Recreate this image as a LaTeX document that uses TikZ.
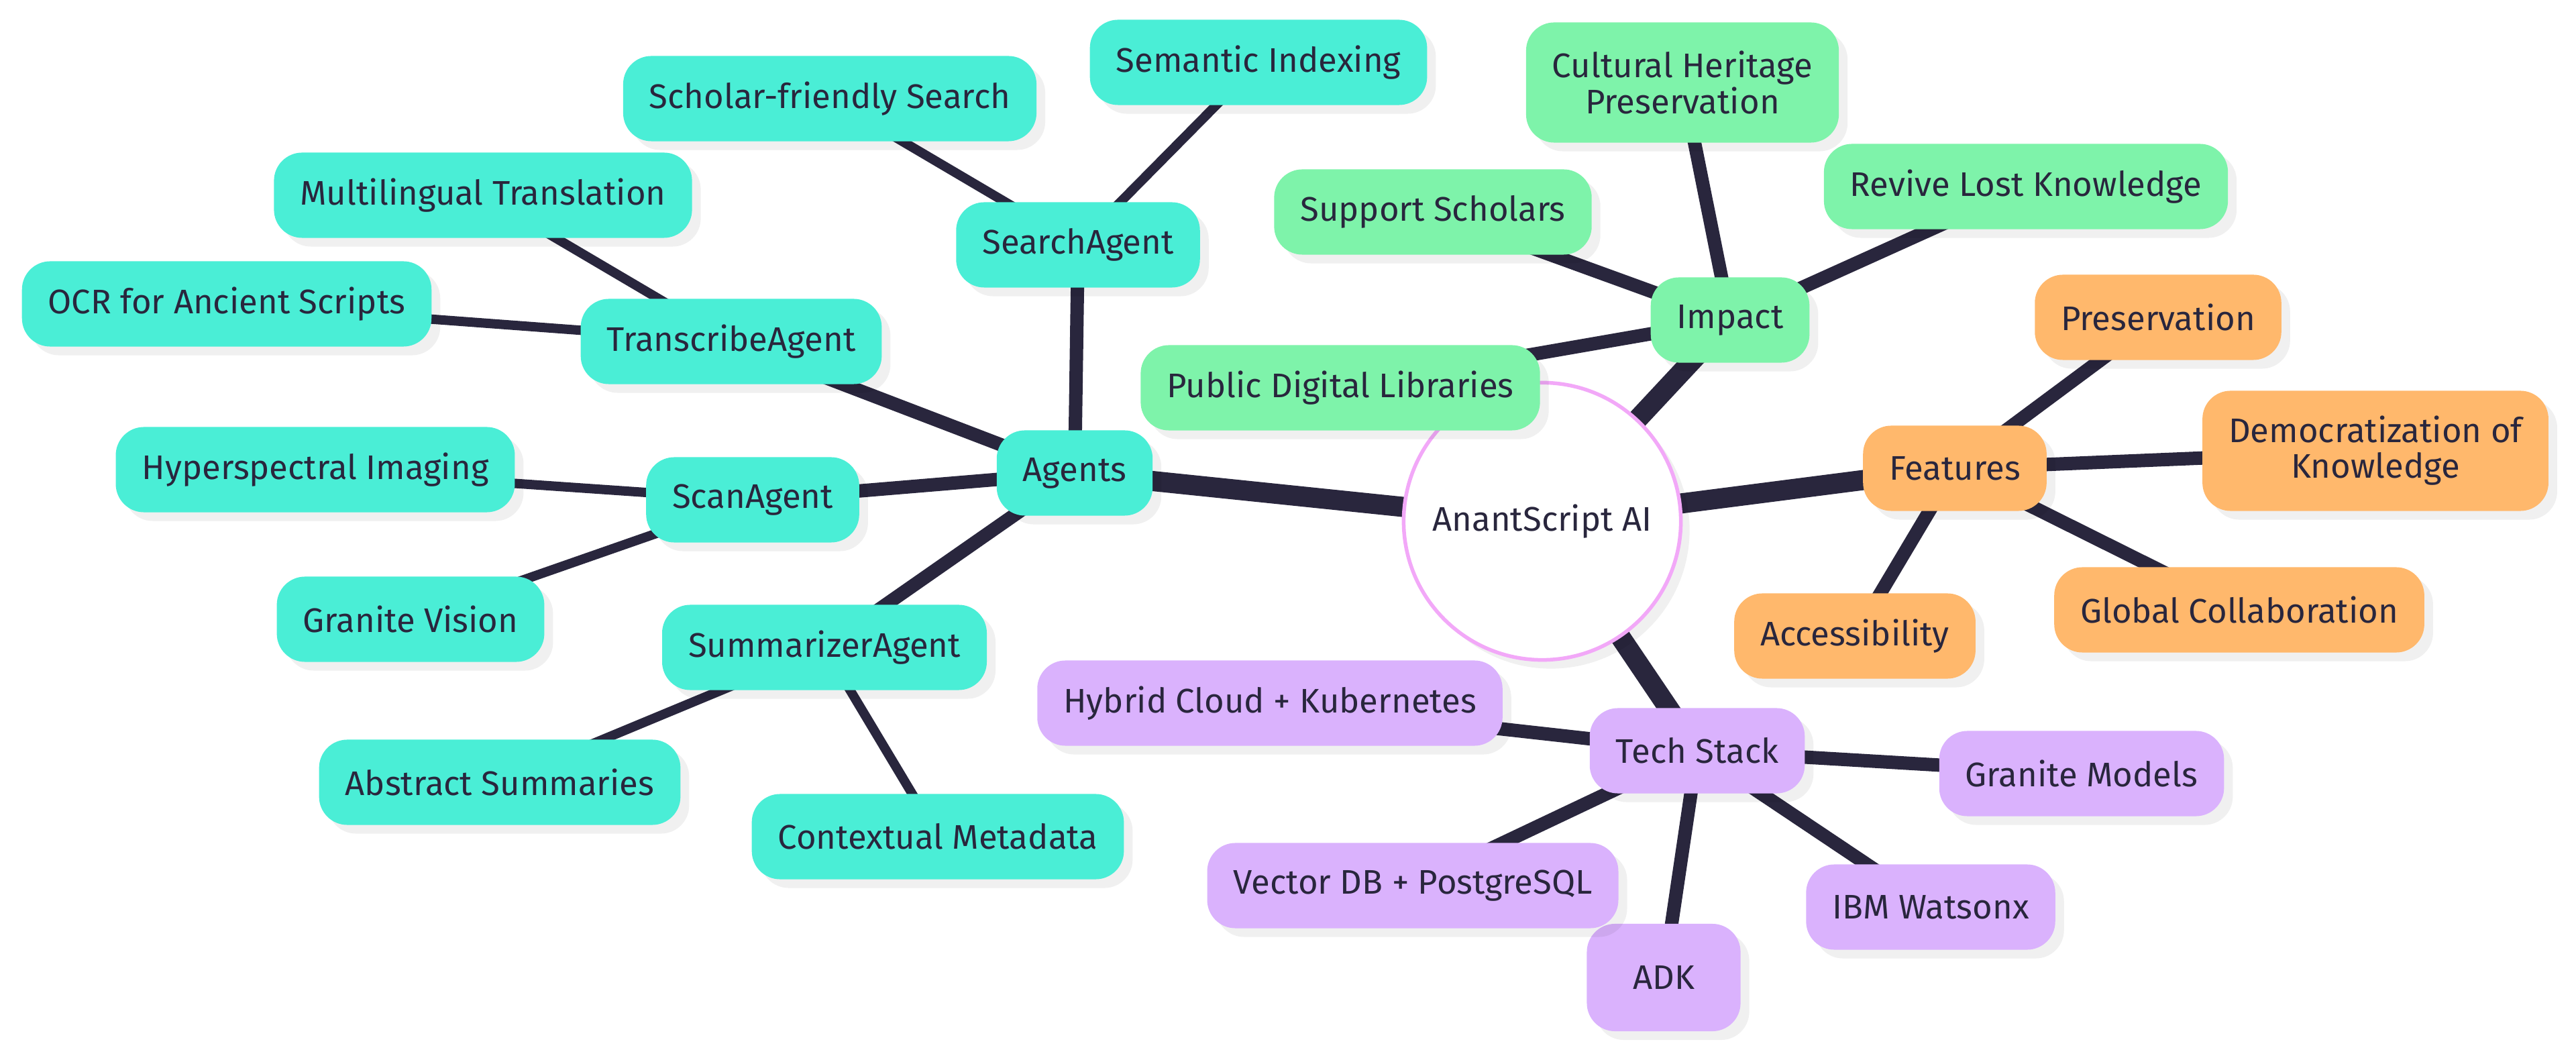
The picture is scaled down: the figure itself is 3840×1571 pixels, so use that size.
\documentclass[tikz,border=0pt]{standalone}
\usepackage{fontspec}
\setmainfont{Fira Sans}
\usetikzlibrary{shadows}
\definecolor{ink}{HTML}{29263D}
\definecolor{cTeal}{HTML}{4AEED6}
\definecolor{cGreen}{HTML}{7EF3AA}
\definecolor{cOrange}{HTML}{FFB86C}
\definecolor{cPurple}{HTML}{DAB2FD}
\definecolor{cPink}{HTML}{F2A8F8}
\pgfdeclarelayer{edges}
\pgfsetlayers{edges,main}
\tikzset{
  mmshadow/.style={drop shadow={shadow xshift=0.13cm, shadow yshift=-0.13cm, fill=black, opacity=0.06}},
  mm/.style={rounded corners=0.42cm, inner xsep=0.39cm, inner ysep=0pt,
    minimum height=1.27cm, text=ink, align=center,
    font=\fontsize{14.46pt}{15.1pt}\selectfont, mmshadow},
  twoline/.style={minimum height=1.79cm},
  nTeal/.style={mm, fill=cTeal},
  nGreen/.style={mm, fill=cGreen},
  nOrange/.style={mm, fill=cOrange},
  nPurple/.style={mm, fill=cPurple},
  eA/.style={draw=ink, line width=0.30cm},
  eB/.style={draw=ink, line width=0.20cm},
  eC/.style={draw=ink, line width=0.14cm},
}
\begin{document}
\begin{tikzpicture}[x=0.01cm, y=-0.01cm]
\useasboundingbox (0,0) rectangle (3840,1571);
% root
\node[circle, minimum size=4.13cm, inner sep=0pt, draw=cPink, line width=0.055cm, fill=white,
  text=ink, font=\fontsize{14.46pt}{15.1pt}\selectfont, mmshadow] (root) at (2299,777) {AnantScript AI};
% Agents branch
\node[nTeal] (agents) at (1602,705) {Agents};
\node[nTeal] (search) at (1607,365) {SearchAgent};
\node[nTeal] (semantic) at (1876,93) {Semantic Indexing};
\node[nTeal] (scholar) at (1237,147) {Scholar-friendly Search};
\node[nTeal] (transcribe) at (1090,509) {TranscribeAgent};
\node[nTeal] (multi) at (720,291) {Multilingual Translation};
\node[nTeal] (ocr) at (338,453) {OCR for Ancient Scripts};
\node[nTeal] (scan) at (1122,745) {ScanAgent};
\node[nTeal] (hyper) at (470,700) {Hyperspectral Imaging};
\node[nTeal] (gvision) at (612,923) {Granite Vision};
\node[nTeal] (summ) at (1229,965) {SummarizerAgent};
\node[nTeal] (abstract) at (745,1166) {Abstract Summaries};
\node[nTeal] (context) at (1398,1247) {Contextual Metadata};
% Impact branch
\node[nGreen] (impact) at (2579,477) {Impact};
\node[nGreen, twoline] (cultural) at (2508,123) {Cultural Heritage\\Preservation};
\node[nGreen] (support) at (2136,316) {Support Scholars};
\node[nGreen] (revive) at (3020,278) {Revive Lost Knowledge};
\node[nGreen] (public) at (1998,578) {Public Digital Libraries};
% Features branch
\node[nOrange] (features) at (2914,698) {Features};
\node[nOrange] (preserv) at (3217,473) {Preservation};
\node[nOrange, twoline] (democ) at (3541,672) {Democratization of\\Knowledge};
\node[nOrange] (access) at (2765,948) {Accessibility};
\node[nOrange] (global) at (3338,909) {Global Collaboration};
% Tech Stack branch
\node[nPurple] (tech) at (2530,1119) {Tech Stack};
\node[nPurple] (hybrid) at (1893,1048) {Hybrid Cloud + Kubernetes};
\node[nPurple] (gmodels) at (3103,1153) {Granite Models};
\node[nPurple, minimum width=2.29cm, minimum height=1.6cm] (adk) at (2480,1457) {ADK};
\node[nPurple] (vector) at (2106,1320) {Vector DB + PostgreSQL};
\node[nPurple] (watson) at (2878,1352) {IBM Watsonx};
% edges
\begin{pgfonlayer}{edges}
\draw[eA] (root.center) -- (agents.center);
\draw[eA] (root.center) -- (impact.center);
\draw[eA] (root.center) -- (features.center);
\draw[eA] (root.center) -- (tech.center);
\draw[eB] (agents.center) -- (search.center);
\draw[eB] (agents.center) -- (transcribe.center);
\draw[eB] (agents.center) -- (scan.center);
\draw[eB] (agents.center) -- (summ.center);
\draw[eC] (search.center) -- (semantic.center);
\draw[eC] (search.center) -- (scholar.center);
\draw[eC] (transcribe.center) -- (multi.center);
\draw[eC] (transcribe.center) -- (ocr.center);
\draw[eC] (scan.center) -- (hyper.center);
\draw[eC] (scan.center) -- (gvision.center);
\draw[eC] (summ.center) -- (abstract.center);
\draw[eC] (summ.center) -- (context.center);
\draw[eB] (impact.center) -- (cultural.center);
\draw[eB] (impact.center) -- (support.center);
\draw[eB] (impact.center) -- (revive.center);
\draw[eB] (impact.center) -- (public.center);
\draw[eB] (features.center) -- (preserv.center);
\draw[eB] (features.center) -- (democ.center);
\draw[eB] (features.center) -- (access.center);
\draw[eB] (features.center) -- (global.center);
\draw[eB] (tech.center) -- (hybrid.center);
\draw[eB] (tech.center) -- (gmodels.center);
\draw[eB] (tech.center) -- (adk.center);
\draw[eB] (tech.center) -- (vector.center);
\draw[eB] (tech.center) -- (watson.center);
\end{pgfonlayer}
\end{tikzpicture}
\end{document}
